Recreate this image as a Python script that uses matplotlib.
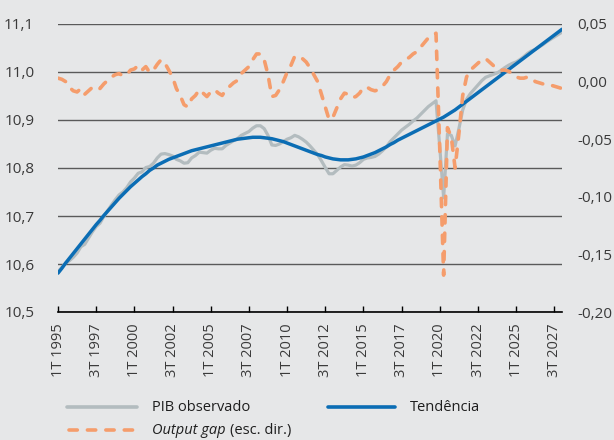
import matplotlib
matplotlib.use('Agg')
import matplotlib.pyplot as plt
from matplotlib.lines import Line2D
import numpy as np

plt.rcParams['font.family'] = ['Open Sans', 'DejaVu Sans']

# ---------------- data ----------------
years = list(range(1995, 2029))
quarters = [f"{q}T {y}" for y in years for q in (1, 2, 3, 4)][:133]
tick_step = 10

pib_observado = [
    10.584, 10.593, 10.602, 10.607, 10.614, 10.623, 10.636, 10.641, 10.654, 10.667,
    10.678, 10.685, 10.699, 10.711, 10.723, 10.734, 10.744, 10.750, 10.759, 10.771,
    10.779, 10.789, 10.792, 10.801, 10.803, 10.810, 10.821, 10.829, 10.830, 10.828,
    10.825, 10.818, 10.815, 10.810, 10.811, 10.821, 10.826, 10.833, 10.832, 10.831,
    10.837, 10.841, 10.840, 10.840, 10.847, 10.852, 10.857, 10.861, 10.868, 10.872,
    10.876, 10.883, 10.888, 10.888, 10.882, 10.868, 10.848, 10.847, 10.850, 10.855,
    10.860, 10.863, 10.868, 10.865, 10.860, 10.854, 10.846, 10.837, 10.828, 10.815,
    10.801, 10.788, 10.788, 10.795, 10.802, 10.807, 10.806, 10.804, 10.806, 10.811,
    10.818, 10.821, 10.822, 10.824, 10.829, 10.836, 10.844, 10.855, 10.863, 10.871,
    10.879, 10.885, 10.891, 10.898, 10.904, 10.912, 10.920, 10.928, 10.934, 10.940,
    10.842, 10.738, 10.871, 10.868, 10.846, 10.882, 10.921, 10.943, 10.955, 10.964,
    10.973, 10.982, 10.989, 10.992, 10.995, 10.998, 11.003, 11.009, 11.014, 11.018,
    11.021, 11.026, 11.032, 11.039, 11.044, 11.047, 11.052, 11.057, 11.063, 11.068,
    11.073, 11.078, 11.083,
]

tendencia = [
    10.581, 10.591, 10.602, 10.612, 10.622, 10.632, 10.642, 10.652, 10.662, 10.672,
    10.682, 10.691, 10.701, 10.710, 10.719, 10.728, 10.737, 10.745, 10.753, 10.761,
    10.768, 10.775, 10.782, 10.788, 10.795, 10.800, 10.806, 10.810, 10.814, 10.818,
    10.821, 10.824, 10.827, 10.830, 10.833, 10.836, 10.838, 10.840, 10.842, 10.844,
    10.846, 10.848, 10.850, 10.852, 10.854, 10.856, 10.858, 10.860, 10.861, 10.862,
    10.863, 10.864, 10.864, 10.864, 10.863, 10.862, 10.861, 10.859, 10.857, 10.855,
    10.852, 10.849, 10.846, 10.843, 10.840, 10.837, 10.834, 10.831, 10.828, 10.826,
    10.823, 10.821, 10.819, 10.818, 10.817, 10.817, 10.817, 10.818, 10.819, 10.821,
    10.823, 10.826, 10.829, 10.832, 10.836, 10.840, 10.844, 10.849, 10.853, 10.858,
    10.862, 10.866, 10.870, 10.874, 10.878, 10.882, 10.886, 10.890, 10.894, 10.898,
    10.902, 10.906, 10.911, 10.916, 10.921, 10.927, 10.933, 10.939, 10.945, 10.951,
    10.957, 10.963, 10.969, 10.975, 10.981, 10.987, 10.993, 10.999, 11.005, 11.011,
    11.017, 11.023, 11.029, 11.035, 11.041, 11.047, 11.053, 11.059, 11.065, 11.071,
    11.077, 11.083, 11.089,
]

output_gap = [
    0.003, 0.002, 0.000, -0.005, -0.008, -0.009, -0.006, -0.011, -0.008, -0.005,
    -0.004, -0.006, -0.002, 0.001, 0.004, 0.006, 0.007, 0.005, 0.006, 0.010,
    0.011, 0.014, 0.010, 0.013, 0.008, 0.010, 0.015, 0.019, 0.016, 0.010,
    0.004, -0.006, -0.012, -0.020, -0.022, -0.015, -0.012, -0.007, -0.010, -0.013,
    -0.009, -0.007, -0.010, -0.012, -0.007, -0.004, -0.001, 0.001, 0.007, 0.010,
    0.013, 0.019, 0.024, 0.024, 0.019, 0.006, -0.013, -0.012, -0.007, 0.000,
    0.008, 0.014, 0.022, 0.022, 0.020, 0.017, 0.012, 0.006, 0.000, -0.011,
    -0.022, -0.033, -0.031, -0.023, -0.015, -0.010, -0.011, -0.014, -0.013, -0.010,
    -0.005, -0.005, -0.007, -0.008, -0.007, -0.004, 0.000, 0.006, 0.010, 0.013,
    0.017, 0.019, 0.021, 0.024, 0.026, 0.030, 0.034, 0.038, 0.040, 0.042,
    -0.060, -0.168, -0.040, -0.048, -0.075, -0.045, -0.012, 0.004, 0.010, 0.013,
    0.016, 0.019, 0.020, 0.017, 0.014, 0.011, 0.010, 0.010, 0.009, 0.007,
    0.004, 0.003, 0.003, 0.004, 0.003, 0.000, -0.001, -0.002, -0.002, -0.003,
    -0.004, -0.005, -0.006,
]

left_ticks = [10.5, 10.6, 10.7, 10.8, 10.9, 11.0, 11.1]
right_ticks = [-0.20, -0.15, -0.10, -0.05, 0.00, 0.05]

series_labels = ["PIB observado", "Tendência", "Output gap", "(esc. dir.)"]

# ---------------- style ----------------
W, H = 614, 440
BG = '#e6e7e8'
C_OBS = '#b3bcbf'
C_TREND = '#0b6db4'
C_GAP = '#f59d6c'
C_TXT = '#3a3a3a'

fig = plt.figure(figsize=(W / 100, H / 100), dpi=100)
fig.patch.set_facecolor(BG)

ax = fig.add_axes([58 / W, 1 - 312 / H, 504 / W, 288 / H])
ax.set_facecolor(BG)

x = np.arange(len(quarters))
ax.plot(x, pib_observado, color=C_OBS, lw=2.3, solid_joinstyle='round', zorder=3)
ax.plot(x, tendencia, color=C_TREND, lw=2.5, solid_capstyle='round', zorder=4)

ax.set_xlim(0, len(quarters) - 1)
ax.set_ylim(left_ticks[0], left_ticks[-1])
ax.set_yticks(left_ticks)
ax.set_yticklabels([f"{v:.1f}".replace('.', ',') for v in left_ticks])
ax.yaxis.grid(True, color='#5a5a5a', lw=1.0)
ax.set_axisbelow(True)

tick_pos = list(range(0, len(quarters), tick_step))
ax.set_xticks(tick_pos)
ax.set_xticklabels([quarters[i] for i in tick_pos], rotation=90)

ax.tick_params(axis='x', direction='in', length=4, width=1.0, color='black',
               labelsize=10.5, labelcolor=C_TXT, pad=8)
ax.tick_params(axis='y', length=0, labelsize=11, labelcolor=C_TXT, pad=17)

for s in ('left', 'right', 'top'):
    ax.spines[s].set_visible(False)
ax.spines['bottom'].set_color('black')
ax.spines['bottom'].set_linewidth(1.2)
ax.spines['bottom'].set_zorder(6)

ax2 = ax.twinx()
ax2.plot(x, output_gap, color=C_GAP, lw=2.6, dashes=(2.3, 2.8),
         dash_capstyle='round', solid_joinstyle='round', zorder=5)
ax2.set_ylim(right_ticks[0], right_ticks[-1])
ax2.set_yticks(right_ticks)
ax2.set_yticklabels([f"{v:.2f}".replace('.', ',') for v in right_ticks])
ax2.tick_params(axis='y', length=0, labelsize=11, labelcolor=C_TXT, pad=11)
for s in ax2.spines.values():
    s.set_visible(False)

# ---------------- legend ----------------
def fx(px):
    return px / W

def fy(py):
    return 1 - py / H

fig.add_artist(Line2D([fx(67), fx(137)], [fy(407), fy(407)], color=C_OBS, lw=2.6,
                      solid_capstyle='round', transform=fig.transFigure))
fig.add_artist(Line2D([fx(328), fx(395)], [fy(407), fy(407)], color=C_TREND, lw=2.6,
                      solid_capstyle='round', transform=fig.transFigure))
fig.add_artist(Line2D([fx(69), fx(137)], [fy(430), fy(430)], color=C_GAP, lw=2.6,
                      dashes=(2.3, 2.8), dash_capstyle='round', transform=fig.transFigure))

fig.text(fx(152), fy(407), series_labels[0], ha='left', va='center', fontsize=10.5, color='#1e1e1e')
fig.text(fx(410), fy(407), series_labels[1], ha='left', va='center', fontsize=10.5, color='#1e1e1e')
t_it = fig.text(fx(152), fy(430), series_labels[2], ha='left', va='center', fontsize=10.5,
                color='#1e1e1e', style='italic')
renderer = fig.canvas.get_renderer()
bb = t_it.get_window_extent(renderer=renderer)
fig.text((bb.x1 + 4) / W, fy(430), series_labels[3], ha='left', va='center', fontsize=10.5,
         color='#1e1e1e')

fig.savefig('out.png', dpi=100, facecolor=BG)
